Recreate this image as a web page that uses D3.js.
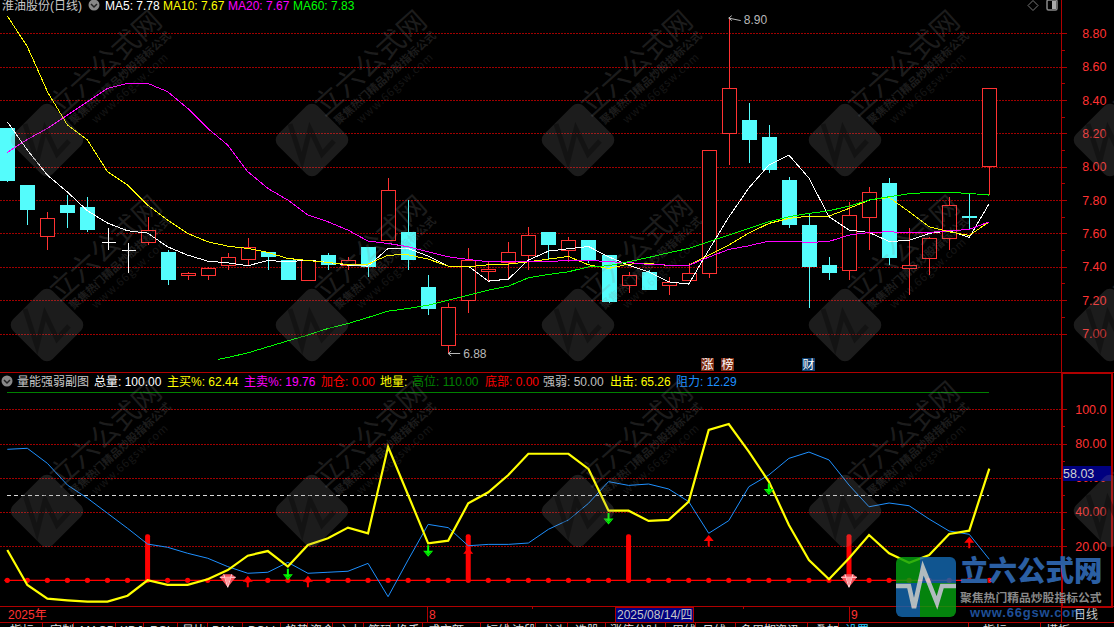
<!DOCTYPE html>
<html><head><meta charset="utf-8">
<style>html,body{margin:0;padding:0;background:#000;overflow:hidden}svg{display:block}
text{font-family:"Liberation Sans","Noto Sans CJK SC",sans-serif;font-size:12px}</style>
<script src="https://cdn.jsdelivr.net/npm/d3@7/dist/d3.min.js"></script></head><body>
<svg id="c" width="1114" height="627"></svg>
<script>
// ---- price pane data ----
const opens  = [8.23,7.89,7.58,7.77,7.76,7.55,7.50,7.55,7.49,7.35,7.35,7.41,7.45,7.49,7.44,7.32,7.47,7.41,7.52,7.56,7.61,7.28,6.93,7.20,7.375,7.43,7.47,7.61,7.50,7.56,7.47,7.29,7.37,7.29,7.32,7.36,8.20,8.28,8.18,7.92,7.65,7.41,7.38,7.70,7.90,7.39,7.45,7.57,7.705,8.00];
const closes = [7.91,7.74,7.69,7.72,7.62,7.55,7.50,7.62,7.32,7.36,7.39,7.46,7.52,7.46,7.32,7.44,7.41,7.44,7.40,7.86,7.44,7.15,7.16,7.44,7.385,7.49,7.59,7.53,7.56,7.44,7.19,7.35,7.26,7.31,7.36,8.10,8.47,8.16,7.98,7.65,7.40,7.36,7.71,7.85,7.45,7.41,7.57,7.77,7.695,8.47];
const highs  = [8.23,7.89,7.73,7.83,7.82,7.63,7.54,7.70,7.50,7.37,7.40,7.48,7.57,7.49,7.44,7.44,7.48,7.46,7.52,7.93,7.80,7.35,7.18,7.51,7.43,7.55,7.64,7.61,7.58,7.56,7.47,7.37,7.38,7.34,7.42,8.10,8.90,8.38,8.25,7.94,7.72,7.46,7.79,7.88,7.93,7.63,7.58,7.82,7.84,8.47];
const lows   = [7.91,7.65,7.50,7.63,7.61,7.50,7.36,7.53,7.29,7.32,7.32,7.38,7.41,7.38,7.32,7.32,7.38,7.38,7.34,7.56,7.38,7.11,6.88,7.12,7.31,7.33,7.38,7.44,7.43,7.42,7.18,7.24,7.26,7.23,7.32,7.33,8.01,8.02,7.96,7.63,7.15,7.32,7.32,7.50,7.41,7.23,7.35,7.50,7.62,7.83];
const ma5  = [8.270,8.100,7.950,7.848,7.736,7.662,7.616,7.602,7.520,7.470,7.434,7.424,7.406,7.438,7.430,7.440,7.426,7.410,7.404,7.510,7.510,7.464,7.404,7.404,7.314,7.326,7.440,7.494,7.508,7.522,7.460,7.410,7.370,7.310,7.296,7.500,7.698,7.872,8.010,8.070,7.932,7.700,7.620,7.606,7.552,7.558,7.600,7.616,7.576,7.78];
const ma10 = [8.904,8.720,8.450,8.250,8.160,7.970,7.890,7.770,7.680,7.600,7.550,7.524,7.510,7.486,7.450,7.438,7.426,7.414,7.416,7.470,7.472,7.446,7.404,7.400,7.412,7.416,7.430,7.446,7.462,7.412,7.390,7.416,7.420,7.408,7.408,7.470,7.530,7.602,7.660,7.690,7.704,7.704,7.750,7.800,7.816,7.730,7.640,7.610,7.588,7.67];
const ma20 = [8.086,8.164,8.230,8.310,8.390,8.470,8.500,8.500,8.450,8.350,8.230,8.130,7.970,7.870,7.800,7.710,7.670,7.620,7.554,7.540,7.520,7.490,7.460,7.444,7.430,7.430,7.434,7.430,7.440,7.440,7.430,7.426,7.414,7.410,7.408,7.458,7.504,7.526,7.554,7.554,7.546,7.552,7.590,7.606,7.610,7.604,7.606,7.616,7.624,7.67];
const ma60 = [6.856,6.884,6.920,6.956,6.990,7.030,7.060,7.096,7.134,7.150,7.170,7.200,7.230,7.260,7.284,7.334,7.354,7.370,7.400,7.406,7.430,7.456,7.484,7.510,7.550,7.590,7.630,7.670,7.700,7.720,7.736,7.764,7.800,7.820,7.838,7.846,7.846,7.840,7.83];
const ma60First = 6.844, ma60FirstIdx = 10.5;
const priceTicks = [8.8,8.6,8.4,8.2,8.0,7.8,7.6,7.4,7.2,7.0];
const priceMinor = [8.7,8.5,8.3,8.1,7.9,7.7,7.5,7.3,7.1];
// ---- indicator pane data ----
const chuji = [17.7,-2.75,-10.7,-11.7,-12.5,-12.5,-9,0,-2.7,-2.7,0.6,6,14.4,17.1,8,20.6,24.6,30.8,27.5,78.1,49.9,21.6,23.2,45,51.5,61.6,74,74,74,65.1,40.7,40.7,34.7,35.3,46,87.9,91.4,75.2,57.7,32.3,11.9,0.6,12.9,26.5,15.8,10.3,14.8,27.1,29,65.26];
const zuli  = [76.6,77.2,68.4,55.7,48,39.2,30.4,21.2,19.3,15.8,12.9,8,4.1,4.7,10.5,4.1,4.7,5.3,9.9,-9.6,11.9,32.7,30.8,20.2,21,21,21.8,29.8,35.3,45,57.7,55.5,56.3,53.4,46,27.5,34.9,54.7,61.6,71.3,75,70.4,55.7,43,45.2,43.6,35.8,28.8,26.9,12.29];
const redBarIdx = [7,23,31,42], redBarValue = 27;
const upArrowIdx = [12,15,23,35,48], upArrowTip = [2.7,2.7,19,26.5,25.5];
const downArrowIdx = [14,21,30,38], downArrowTip = [0,13.8,32.7,49.9];
const gemIdx = [11,42];
const indTicks = [100,80,60,40,20], indMinor = [90,70,50,30,10];
const highLevel = 110, midLevel = 50;
// ---- text ----
const topLegend = [["MA5: 7.78","#fff",105],["MA10: 7.67","#ff0",163],["MA20: 7.67","#f0f",228],["MA60: 7.83","#0f0",293]];
const subLegend = [["量能强弱副图","#c8c8c8",17],["总量: 100.00","#fff",94],["主买%: 62.44","#ff0",167],["主卖%: 19.76","#f0f",244],["加仓: 0.00","#f00",321],["地量:","#ff0",380],["高位: 110.00","#008000",412],["底部: 0.00","#f00",485],["强弱: 50.00","#c0c0c0",543],["出击: 65.26","#ff0",610],["阻力: 12.29","#1e90ff",676]];
const tabSeps = [42,73,115,143,177,207,242,280,307,332,363,390,422,480,507,535,567,605,628,665,695,735,766,807,838,968,1040];
const tabLabels = [["指标+",10,"#ddd"],["定制",50,"#ddd"],["MACD",80,"#ddd"],["KDJ",120,"#ddd"],["RSI",150,"#ddd"],["量比",182,"#ddd"],["DMI",212,"#ddd"],["BOLL",248,"#ddd"],["趋势",285,"#ddd"],["资金",310,"#ddd"],["主力",338,"#ddd"],["筹码",368,"#ddd"],["换手",396,"#ddd"],["成交额",428,"#ddd"],["短线",486,"#ddd"],["波段",512,"#ddd"],["龙头",542,"#ddd"],["选股",575,"#ddd"],["涨停",610,"#ddd"],["分时",634,"#ddd"],["周线",672,"#ddd"],["月线",702,"#ddd"],["多周期",740,"#ddd"],["资讯",775,"#ddd"],["叠加",815,"#ddd"],["设置",845,"#3cf"],["指标+",983,"#ddd"],["模板",1046,"#ddd"]];

const RED="#ff3232", CYAN="#54fcfc", AX="#b00000", GRID="#a00000";
const svg = d3.select("#c");
svg.append("rect").attr("width",1114).attr("height",627).attr("fill","#000");

const x = d3.scaleLinear().domain([0,49]).range([7.3,989.3]);
const yP = d3.scaleLinear().domain([7.0,8.8]).range([333.5,33.3]);
const yI = d3.scaleLinear().domain([0,100]).range([580.3,409.3]);
const idx = d3.range(50);
const px = v => Math.round(v)+0.5;

// grid
const grid = svg.append("g").attr("stroke",GRID).attr("stroke-dasharray","1.5 1.5").attr("shape-rendering","crispEdges");
priceTicks.forEach(t=>grid.append("line").attr("x1",0).attr("x2",1061).attr("y1",px(yP(t))).attr("y2",px(yP(t))));
indTicks.forEach(t=>grid.append("line").attr("x1",0).attr("x2",1061).attr("y1",px(yI(t))).attr("y2",px(yI(t))));

// frame
const frame = svg.append("g").attr("stroke",AX).attr("shape-rendering","crispEdges").attr("fill","none");
[[1061.5,0,1061.5,622],[0,372.5,1114,372.5],[0,606.5,1114,606.5],[0,622.5,1114,622.5]].forEach(a=>frame.append("line").attr("x1",a[0]).attr("y1",a[1]).attr("x2",a[2]).attr("y2",a[3]));
frame.append("rect").attr("x",1062).attr("y",372.5).attr("width",49.5).attr("height",234).attr("stroke-width",2);
[427,849].forEach(v=>frame.append("line").attr("x1",v+.5).attr("x2",v+.5).attr("y1",606).attr("y2",622));
[532,743].forEach(v=>frame.append("line").attr("x1",v+.5).attr("x2",v+.5).attr("y1",606).attr("y2",609));
tabSeps.forEach(v=>frame.append("line").attr("x1",v+.5).attr("x2",v+.5).attr("y1",622).attr("y2",627));

// axes via d3
function styleAxis(g){g.select(".domain").remove();g.selectAll("line").attr("stroke",AX).attr("shape-rendering","crispEdges");g.selectAll("text").attr("fill",RED).attr("text-anchor","end").attr("x",45).style("font-size","12.5px");}
svg.append("g").attr("transform","translate(1061.5,0)").call(d3.axisRight(yP).tickValues(priceTicks).tickSize(5).tickFormat(d3.format(".2f"))).call(styleAxis);
svg.append("g").attr("transform","translate(1061.5,0)").call(d3.axisRight(yP).tickValues(priceMinor).tickSize(3).tickFormat("")).call(styleAxis);
svg.append("g").attr("transform","translate(1061.5,0)").call(d3.axisRight(yI).tickValues(indTicks).tickSize(5).tickFormat(d=>d==100?"100.0":d3.format(".2f")(d))).call(styleAxis);
svg.append("g").attr("transform","translate(1061.5,0)").call(d3.axisRight(yI).tickValues(indMinor).tickSize(3).tickFormat("")).call(styleAxis);

// candles
const cg = svg.append("g").attr("shape-rendering","crispEdges");
idx.forEach(i=>{
  const cx=Math.round(x(i))+.5, up=closes[i]>opens[i], flat=closes[i]===opens[i];
  const col=flat?"#fff":(up?RED:CYAN);
  const top=yP(Math.max(opens[i],closes[i])), bot=yP(Math.min(opens[i],closes[i]));
  cg.append("line").attr("x1",cx).attr("x2",cx).attr("y1",yP(highs[i])).attr("y2",yP(lows[i])).attr("stroke",col);
  if(flat){cg.append("line").attr("x1",cx-7).attr("x2",cx+7).attr("y1",px(top)).attr("y2",px(top)).attr("stroke",col);}
  else if(up){cg.append("rect").attr("x",cx-7).attr("width",14).attr("y",px(top)).attr("height",Math.max(1,Math.round(bot-top))).attr("fill","#000").attr("stroke",col);}
  else{cg.append("rect").attr("x",cx-7.5).attr("width",15).attr("y",Math.round(top)).attr("height",Math.max(2,Math.round(bot-top))).attr("fill",col);}
});

// moving averages
const lineP = d3.line().x(d=>x(d[0])).y(d=>yP(d[1]));
const maLine=(data,col)=>svg.append("path").attr("d",lineP(data)).attr("fill","none").attr("stroke",col).attr("stroke-width",1).attr("shape-rendering","crispEdges");
maLine(ma5.map((v,i)=>[i,v]),"#fff");
maLine(ma10.map((v,i)=>[i,v]),"#ff0");
maLine(ma20.map((v,i)=>[i,v]),"#f0f");
maLine([[ma60FirstIdx,ma60First]].concat(ma60.map((v,i)=>[i+50-ma60.length,v])),"#0f0");

// high/low flags
function flag(i,price,label,dir){
  const cx=x(i), cy=dir>0?yP(price)+1.5:yP(price);
  const g=svg.append("g").attr("stroke","#b8b8b8").attr("fill","none");
  g.append("path").attr("d",`M${cx+12},${cy+(dir>0?2.5:0)}L${cx},${cy}M${cx+3},${cy-2.5}L${cx},${cy}L${cx+3},${cy+2.5}`);
  svg.append("text").attr("x",cx+15).attr("y",cy+4.5+(dir>0?1:0)).attr("fill","#b8b8b8").text(label);
}
flag(36,8.90,"8.90",1); flag(22,6.88,"6.88",-1);

// indicator pane
const ind = svg.append("g");
ind.append("line").attr("x1",x(0)).attr("x2",x(49)).attr("y1",px(yI(highLevel))).attr("y2",px(yI(highLevel))).attr("stroke","#008000").attr("shape-rendering","crispEdges");
ind.append("line").attr("x1",x(0)).attr("x2",x(49)).attr("y1",px(yI(midLevel))).attr("y2",px(yI(midLevel))).attr("stroke","#d8d8d8").attr("stroke-dasharray","4 3").attr("shape-rendering","crispEdges");
redBarIdx.forEach(i=>ind.append("rect").attr("x",x(i)-2.5).attr("width",5).attr("y",yI(redBarValue)).attr("height",yI(0)-yI(redBarValue)).attr("rx",2).attr("fill","#f00"));
ind.append("line").attr("x1",x(0)-3).attr("x2",x(49)).attr("y1",yI(0)).attr("y2",yI(0)).attr("stroke","#f00").attr("stroke-width",1.2);
idx.forEach(i=>ind.append("circle").attr("cx",x(i)).attr("cy",yI(0)).attr("r",2.6).attr("fill","#f00"));
const lineI=d3.line().x((d,i)=>x(i)).y(d=>yI(d));
ind.append("path").attr("d",lineI(zuli)).attr("fill","none").attr("stroke","#1e90ff").attr("stroke-width",1);
ind.append("path").attr("d",lineI(chuji)).attr("fill","none").attr("stroke","#ff0").attr("stroke-width",2.2);
upArrowIdx.forEach((i,k)=>{const cx=x(i),t=yI(upArrowTip[k]);
  ind.append("path").attr("d",`M${cx},${t}L${cx+5},${t+6}L${cx+1},${t+6}V${t+11.5}H${cx-1}V${t+6}H${cx-5}Z`).attr("fill","#f00");});
downArrowIdx.forEach((i,k)=>{const cx=x(i),t=yI(downArrowTip[k]);
  ind.append("path").attr("d",`M${cx},${t}L${cx+5},${t-6}L${cx+1},${t-6}V${t-11.5}H${cx-1}V${t-6}H${cx-5}Z`).attr("fill","#0f0");
  ind.append("path").attr("d",`M${cx-3},${t-5}L${cx},${t-2}L${cx+3},${t-5}`).attr("fill","none").attr("stroke","#0a0");});
gemIdx.forEach(i=>{const cx=x(i),cy=yI(0);
  const g=ind.append("g").attr("transform",`translate(${cx},${cy})`);
  g.append("path").attr("d","M-8,-3L-4,-6H4L8,-3L0,7Z").attr("fill","#f4505a");
  g.append("path").attr("d","M-8,-3H8M-4,-6L-3,-3L0,7L3,-3L4,-6").attr("fill","none").attr("stroke","#ffd8d8").attr("stroke-width",1);
  g.append("path").attr("d","M-3,-3H3L0,5Z").attr("fill","#ff9aa0");
});

// value box and date strip
svg.append("rect").attr("x",1063).attr("y",466).attr("width",48).attr("height",15).attr("fill","#000080");
svg.append("text").attr("x",1063).attr("y",478).attr("fill","#d0d0d0").style("font-size","12.5px").text("58.03");
svg.append("text").attr("x",8).attr("y",619).attr("fill",RED).text("2025年");
svg.append("text").attr("x",429).attr("y",619).attr("fill",RED).text("8");
svg.append("text").attr("x",851).attr("y",619).attr("fill",RED).text("9");
svg.append("rect").attr("x",615.5).attr("y",607).attr("width",78).attr("height",15).attr("fill","#000080").attr("stroke",AX).attr("shape-rendering","crispEdges");
svg.append("text").attr("x",617).attr("y",619).attr("fill","#c8c8c8").text("2025/08/14/四");
tabLabels.forEach(t=>svg.append("text").attr("x",t[1]).attr("y",634.5).attr("fill",t[2]).text(t[0]));

// header texts
svg.append("text").attr("x",2).attr("y",10).attr("fill","#c8c8c8").text("淮油股份(日线)");
topLegend.forEach(t=>svg.append("text").attr("x",t[2]).attr("y",9.5).attr("fill",t[1]).text(t[0]));
subLegend.forEach(t=>svg.append("text").attr("x",t[2]).attr("y",385.5).attr("fill",t[1]).text(t[0]));
function chevron(cx,cy){svg.append("circle").attr("cx",cx).attr("cy",cy).attr("r",5.5).attr("fill","#888");
  svg.append("path").attr("d",`M${cx-3},${cy-1}L${cx},${cy+2}L${cx+3},${cy-1}`).attr("fill","none").attr("stroke","#222").attr("stroke-width",1.5);}
chevron(94,5); chevron(7,381);
// window icons
svg.append("path").attr("d","M1033,0.5L1038,5.5L1033,10.5L1028,5.5Z").attr("fill","none").attr("stroke","#777");
svg.append("rect").attr("x",1047).attr("y",0).attr("width",10).attr("height",10).attr("rx",1.5).attr("fill","none").attr("stroke","#888").attr("stroke-width",1.5);
svg.append("rect").attr("x",1052).attr("y",1).attr("width",4).attr("height",8).attr("fill","#aaa");

// badges
[["涨",701,"#7c2a12"],["榜",721,"#7c2a12"],["财",802,"#0f3f70"]].forEach(b=>{
  svg.append("rect").attr("x",b[1]).attr("y",358).attr("width",13).attr("height",13).attr("fill",b[2]);
  svg.append("text").attr("x",b[1]+.5).attr("y",369).attr("fill","#fff").text(b[0]);
});

// watermarks
const wmX=[47,312,578,845,1110], wmY=[140,325,511];
const wm=svg.append("g");
wmY.forEach(cy=>wmX.forEach(cx=>{
  const g=wm.append("g").attr("transform",`translate(${cx},${cy})`);
  g.append("rect").attr("x",-28).attr("y",-28).attr("width",56).attr("height",56).attr("rx",8).attr("transform","rotate(45)").attr("fill","#8a8a8a").attr("opacity",.2);
  g.append("path").attr("d","M-22,-16L-10,21L-2,-11L10,14L22,1").attr("fill","none").attr("stroke","#000").attr("stroke-width",5).attr("opacity",.3);
  const t=(s,dx,dy,size,w,op,ls)=>g.append("text").attr("transform",`translate(${dx},${dy}) rotate(-42)`).attr("text-anchor","middle").attr("dy",".35em").attr("fill","#8a8a8a").attr("opacity",op).style("font-size",size+"px").style("font-family",'"Noto Sans CJK SC"').style("font-weight",w).style("letter-spacing",ls+"px").text(s);
  t("立六公式网",58,-77,28,400,.2,0);
  t("聚焦热门精品炒股指标公式",73,-62,11,700,.2,0);
  t("www.66gsw.com",83,-52,11,400,.15,1);
}));

// corner logo
const lg=svg.append("g").attr("opacity",.82);
const defs=svg.append("defs");
defs.append("clipPath").attr("id","lgc").append("rect").attr("x",896).attr("y",557).attr("width",60).attr("height",60).attr("rx",6);
const lc=lg.append("g").attr("clip-path","url(#lgc)");
[[896,557,24,26,"#06a010"],[920,557,36,26,"#1468b0"],[896,583,24,34,"#1468b0"],[920,583,36,34,"#06a010"]].forEach(r=>lc.append("rect").attr("x",r[0]).attr("y",r[1]).attr("width",r[2]).attr("height",r[3]).attr("fill",r[4]));
lc.append("path").attr("d","M896,586H909L914,608L923,568L937,603L942,586H956").attr("fill","none").attr("stroke","#d8e4e8").attr("stroke-width",4.5);
svg.append("text").attr("x",960).attr("y",581).attr("fill","#2b5fa3").style("font-size","28.5px").style("font-family",'"Noto Sans CJK SC"').style("font-weight",900).text("立六公式网");
svg.append("text").attr("x",960).attr("y",602).attr("fill","#8a8a8a").style("font-size","11.8px").style("font-family",'"Noto Sans CJK SC"').style("font-weight",700).text("聚焦热门精品炒股指标公式");
svg.append("text").attr("x",970).attr("y",617).attr("fill","#1f4f96").style("font-size","13px").style("font-weight",700).style("letter-spacing","0.8px").text("www.66gsw.com");
svg.append("text").attr("x",1074).attr("y",619).attr("fill","#c8c8c8").text("日线");
</script></body></html>
